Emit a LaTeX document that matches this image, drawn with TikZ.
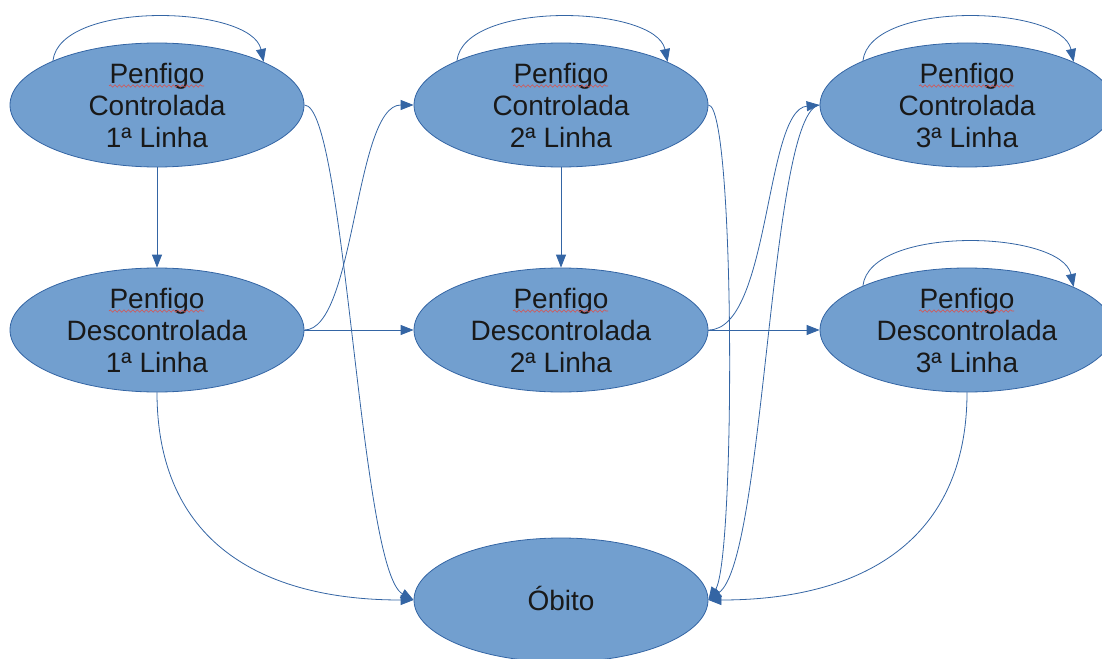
\documentclass[tikz,border=0pt]{standalone}
\usepackage{fontspec}
\setmainfont{Liberation Sans}
\usetikzlibrary{shapes.geometric,arrows.meta,decorations.pathmorphing,calc}
\definecolor{fillblue}{HTML}{729FCF}
\definecolor{edgeblue}{HTML}{3465A4}
\definecolor{spellred}{HTML}{D9534F}
\begin{document}
\begin{tikzpicture}[x=1pt,y=-1pt,
  state/.style={ellipse, draw=edgeblue, fill=fillblue, line width=0.8pt,
    minimum width=294pt, minimum height=124pt, inner sep=0pt, align=center,
    font=\fontsize{28pt}{32pt}\selectfont, text=black!90},
  conn/.style={draw=edgeblue, line width=0.8pt, -{Triangle[length=13pt,width=10pt]}},
  spell/.style={draw=spellred, line width=0.6pt, decorate,
    decoration={snake, amplitude=1.2pt, segment length=4.5pt}}]
\useasboundingbox (0,0) rectangle (1102,658);
% nodes
\node[state] (C1) at (157,105) {Penfigo\\Controlada\\1ª Linha};
\node[state] (C2) at (561,105) {Penfigo\\Controlada\\2ª Linha};
\node[state] (C3) at (967,105) {Penfigo\\Controlada\\3ª Linha};
\node[state] (D1) at (157,330) {Penfigo\\Descontrolada\\1ª Linha};
\node[state] (D2) at (561,330) {Penfigo\\Descontrolada\\2ª Linha};
\node[state] (D3) at (967,330) {Penfigo\\Descontrolada\\3ª Linha};
\node[state, text height=20pt, text depth=0pt] (OB) at (561,600) {Óbito};
% spell-check underlines
\foreach \n in {C1,C2,C3,D1,D2,D3}{
  \draw[spell] ($(\n.center)+(-48,-19)$) -- ($(\n.center)+(47,-19)$);
}
% self loops
\foreach \n in {C1,C2,C3,D3}{
  \draw[conn] (\n.157) .. controls +(7,-61) and +(-12,-57) .. (\n.22);
}
% straight connectors
\draw[conn] (C1.south) -- (D1.north);
\draw[conn] (C2.south) -- (D2.north);
\draw[conn] (D1.east) -- (D2.west);
\draw[conn] (D2.east) -- (D3.west);
% curved connectors
\draw[conn] (C1.east) .. controls +(41,0) and +(-54,-30) .. (OB.west);
\draw[conn] (D1.east) .. controls +(51,0) and +(-59,0) .. (C2.west);
\draw[conn] (D1.south) .. controls +(0,148) and +(-154,0) .. (OB.west);
\draw[conn] (D2.east) .. controls +(62,0) and +(-55,5) .. (C3.west);
\draw[conn] (C2.east) .. controls +(27,0) and +(27,-40) .. (OB.east);
\draw[conn] (C3.west) .. controls +(-50,5) and +(57,-40) .. (OB.east);
\draw[conn] (D3.south) .. controls +(0,148) and +(154,0) .. (OB.east);
\end{tikzpicture}
\end{document}
